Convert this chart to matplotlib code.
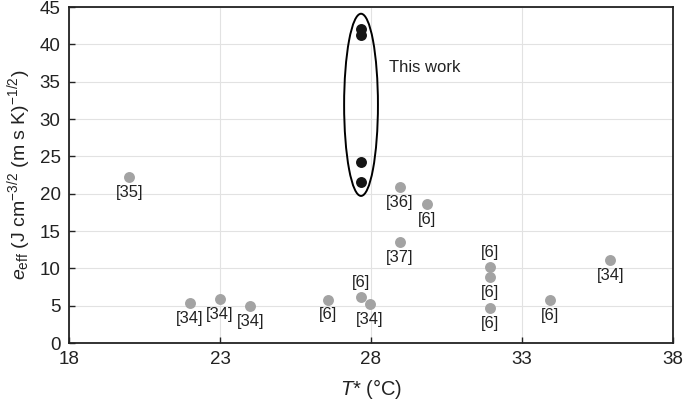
import matplotlib
matplotlib.use("Agg")
import matplotlib.pyplot as plt
from matplotlib.patches import Ellipse

plt.rcParams['font.family'] = ['Liberation Sans', 'DejaVu Sans']
plt.rcParams['mathtext.fontset'] = 'custom'
plt.rcParams['mathtext.rm'] = 'Liberation Sans'
plt.rcParams['mathtext.it'] = 'Liberation Sans:italic'

# literature values (grey)
lit_T = [20.0, 22.0, 23.0, 24.0, 26.57, 27.67, 27.97, 28.96, 29.86, 28.96,
         31.95, 31.95, 31.95, 33.93, 35.93]
lit_e = [22.2, 5.3, 5.9, 4.9, 5.8, 6.2, 5.2, 20.9, 18.6, 13.5,
         10.2, 8.8, 4.7, 5.7, 11.1]
lit_ref = ['[35]', '[34]', '[34]', '[34]', '[6]', '[6]', '[34]', '[36]', '[6]', '[37]',
           '[6]', '[6]', '[6]', '[6]', '[34]']
lit_side = ['below', 'below', 'below', 'below', 'below', 'above', 'below', 'below', 'below', 'below',
            'above', 'below', 'below', 'below', 'below']

# this work (black)
work_T = [27.66, 27.66, 27.66, 27.66]
work_e = [42.0, 41.3, 24.3, 21.5]

fig = plt.figure(figsize=(6.85, 4.01), dpi=100)
ax = fig.add_axes([0.1007, 0.1446, 0.8818, 0.8379])

ax.scatter(lit_T, lit_e, s=62, color='#a3a3a3', zorder=3, linewidths=0)
ax.scatter(work_T, work_e, s=62, color='#151515', zorder=3, linewidths=0)

for t, e, lab, side in zip(lit_T, lit_e, lit_ref, lit_side):
    dy = -11 if side == 'below' else 10.5
    ax.annotate(lab, (t, e), xytext=(0, dy), textcoords='offset points',
                ha='center', va='center', fontsize=12, color='#222222')

ax.add_patch(Ellipse((27.67, 31.9), 1.12, 24.4, fill=False, edgecolor='black',
                     linewidth=1.4, zorder=4))
ax.text(28.6, 36.9, 'This work', fontsize=12, va='center', ha='left', color='#222222')

ax.set_xlim(18, 38)
ax.set_ylim(0, 45)
ax.set_xticks([18, 23, 28, 33, 38])
ax.set_yticks(range(0, 46, 5))
ax.grid(True, color='#e2e2e2', linewidth=0.8, zorder=0)
ax.set_axisbelow(True)
ax.tick_params(direction='in', length=4, width=1, labelsize=13.5, colors='#222222', pad=6)
for s in ax.spines.values():
    s.set_linewidth(1.3)
    s.set_color('#222222')

ax.set_xlabel('$T$* (°C)', fontsize=14.5, color='#222222', labelpad=6)
ax.set_ylabel('$e_{\\mathrm{eff}}$ (J cm$^{-3/2}$ (m s K)$^{-1/2}$)', fontsize=14,
              color='#222222', labelpad=5)

fig.savefig('out.png', dpi=100)
